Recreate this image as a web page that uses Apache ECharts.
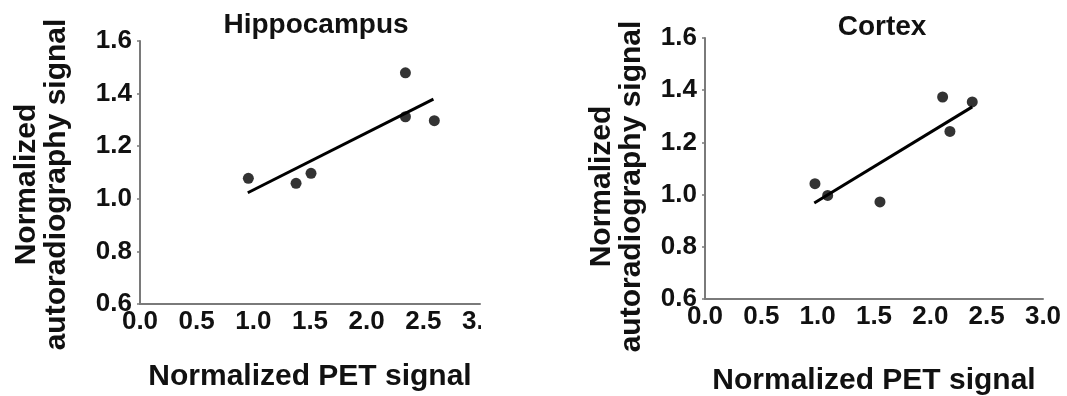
<!DOCTYPE html>
<html>
<head>
<meta charset="utf-8">
<script src="https://cdn.jsdelivr.net/npm/echarts@6/dist/echarts.min.js"></script>
<style>
  html, body { margin: 0; padding: 0; background: #fff; }
  #chart { width: 1067px; height: 396px; }
</style>
</head>
<body>
<div id="chart"></div>
<script>
// ---- data ----
const panelTitles = ['Hippocampus', 'Cortex'];
const xAxisTitle = 'Normalized PET signal';
const yAxisTitle = 'Normalized\nautoradiography signal';

const xRange = [0, 3.0, 0.5];   // min, max, interval
const yRange = [0.6, 1.6, 0.2];

const hippoX = [0.956, 1.377, 1.509, 2.342, 2.342, 2.597];
const hippoY = [1.078, 1.059, 1.097, 1.479, 1.312, 1.297];
const hippoFitX = [0.951, 2.589];
const hippoFitY = [1.023, 1.379];

const cortexX = [0.976, 1.089, 1.553, 2.109, 2.174, 2.372];
const cortexY = [1.042, 0.997, 0.972, 1.374, 1.242, 1.355];
const cortexFitX = [0.970, 2.372];
const cortexFitY = [0.968, 1.336];

// ---- build ----
const FONT = "'Liberation Sans', Arial, Helvetica, sans-serif";
const pair = (xs, ys) => xs.map((x, i) => [x, ys[i]]);

const grids = [
  { left: 140, top: 41, width: 340, height: 263, outerBoundsMode: 'none', containLabel: false },
  { left: 705, top: 38, width: 338, height: 261, outerBoundsMode: 'none', containLabel: false }
];
const yNameGap = [68, 58];
const yNameShift = [24, 36];   // shifts the rotated title down along the axis
const xNameGap = [58, 67];

function xAxisFor(i) {
  return {
    type: 'value', gridIndex: i,
    min: xRange[0], max: xRange[1], interval: xRange[2],
    splitLine: { show: false },
    axisLine: { show: true, lineStyle: { color: '#7a7a7a', width: 2 } },
    axisTick: { show: false },
    axisLabel: {
      margin: 5, fontSize: 26, fontWeight: 'bold', color: '#111', fontFamily: FONT,
      formatter: v => v.toFixed(1)
    },
    name: xAxisTitle, nameLocation: 'middle', nameGap: xNameGap[i],
    nameTextStyle: { fontSize: 30, fontWeight: 'bold', color: '#111', fontFamily: FONT }
  };
}
function yAxisFor(i) {
  return {
    type: 'value', gridIndex: i,
    min: yRange[0], max: yRange[1], interval: yRange[2],
    splitLine: { show: false },
    axisLine: { show: true, lineStyle: { color: '#7a7a7a', width: 2 } },
    axisTick: { show: true, length: 3, lineStyle: { color: '#7a7a7a', width: 1.5 } },
    axisLabel: {
      margin: 8, fontSize: 26, fontWeight: 'bold', color: '#111', fontFamily: FONT,
      formatter: v => v.toFixed(1)
    },
    name: yAxisTitle, nameLocation: 'middle', nameGap: yNameGap[i], nameRotate: 90,
    nameTextStyle: { fontSize: 30, fontWeight: 'bold', color: '#111', fontFamily: FONT,
      lineHeight: 30, padding: [0, yNameShift[i], 0, 0] }
  };
}

const scatterStyle = { symbol: 'circle', symbolSize: 11, itemStyle: { color: '#000' } };
const lineStyle = { showSymbol: false, symbol: 'none', lineStyle: { color: '#000', width: 3 } };

const option = {
  animation: false,
  backgroundColor: '#fff',
  title: [
    { text: panelTitles[0], left: 311, top: 6, textAlign: 'center',
      textStyle: { fontSize: 28, fontWeight: 'bold', color: '#111', fontFamily: FONT } },
    { text: panelTitles[1], left: 877, top: 8, textAlign: 'center',
      textStyle: { fontSize: 28, fontWeight: 'bold', color: '#111', fontFamily: FONT } }
  ],
  grid: grids,
  xAxis: [xAxisFor(0), xAxisFor(1)],
  yAxis: [yAxisFor(0), yAxisFor(1)],
  series: [
    Object.assign({ type: 'scatter', xAxisIndex: 0, yAxisIndex: 0, data: pair(hippoX, hippoY) }, scatterStyle),
    Object.assign({ type: 'line', xAxisIndex: 0, yAxisIndex: 0, data: pair(hippoFitX, hippoFitY) }, lineStyle),
    Object.assign({ type: 'scatter', xAxisIndex: 1, yAxisIndex: 1, data: pair(cortexX, cortexY) }, scatterStyle),
    Object.assign({ type: 'line', xAxisIndex: 1, yAxisIndex: 1, data: pair(cortexFitX, cortexFitY) }, lineStyle)
  ],
  graphic: [
    // the left panel's last tick label is cut off at the panel edge in the reference
    { type: 'rect', left: 481, top: 306, z: 100, shape: { width: 70, height: 32 }, style: { fill: '#fff' } }
  ]
};

const chart = echarts.init(document.getElementById('chart'), null, { renderer: 'canvas' });
chart.setOption(option);
</script>
</body>
</html>
